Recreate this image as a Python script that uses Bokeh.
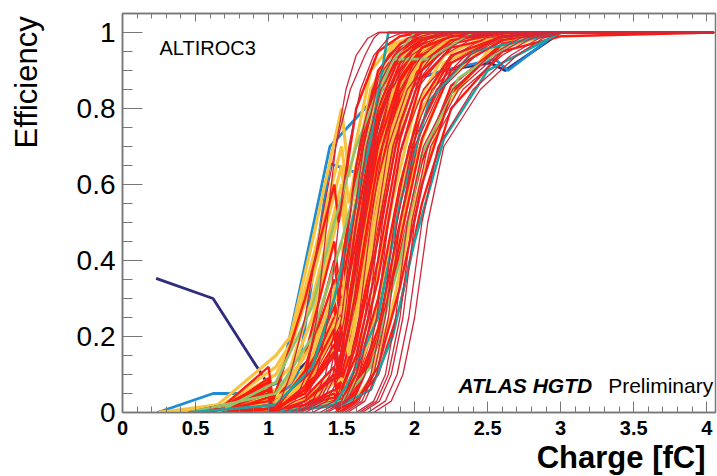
import numpy as np
from bokeh.plotting import figure
from bokeh.models import FixedTicker, LinearAxis, Label, Range1d, Title
from bokeh.embed import file_html
from bokeh.resources import INLINE

# ---------------- data ----------------
X_TICKS = [0, 0.5, 1, 1.5, 2, 2.5, 3, 3.5, 4]
X_TICK_LABELS = ["0", "0.5", "1", "1.5", "2", "2.5", "3", "3.5", "4"]
Y_TICKS = [0, 0.2, 0.4, 0.6, 0.8, 1.0]
Y_TICK_LABELS = ["0", "0.2", "0.4", "0.6", "0.8", "1"]

# measured efficiency scans drawn in red (charge grid, one row per channel)
RED_Q = [0.45, 0.7, 1.0, 1.03, 1.25, 1.45, 1.48, 1.6, 1.75, 1.9, 2.05, 2.25, 2.6, 3.0, 4.05]
RED_EFF = [
    [0, 0.01, 0.08, 0.00, 0.10, 0.30, 0.22, 0.45, 0.78, 0.92, 0.97, 0.99, 1, 1, 1],
    [0, 0.02, 0.06, 0.01, 0.05, 0.15, 0.10, 0.30, 0.65, 0.86, 0.95, 0.99, 1, 1, 1],
    [0, 0.00, 0.04, 0.00, 0.03, 0.10, 0.06, 0.20, 0.50, 0.80, 0.93, 0.98, 1, 1, 1],
    [0, 0.01, 0.09, 0.02, 0.15, 0.45, 0.35, 0.62, 0.88, 0.96, 0.99, 1, 1, 1, 1],
    [0, 0.00, 0.03, 0.00, 0.02, 0.06, 0.03, 0.12, 0.35, 0.68, 0.88, 0.96, 0.99, 1, 1],
    [0, 0.02, 0.07, 0.00, 0.08, 0.25, 0.16, 0.40, 0.72, 0.90, 0.97, 0.99, 1, 1, 1],
    [0, 0.00, 0.05, 0.01, 0.06, 0.20, 0.12, 0.35, 0.62, 0.84, 0.94, 0.98, 1, 1, 1],
    [0, 0.01, 0.02, 0.00, 0.01, 0.05, 0.02, 0.08, 0.26, 0.55, 0.80, 0.93, 0.99, 1, 1],
    [0, 0.00, 0.06, 0.00, 0.12, 0.35, 0.28, 0.55, 0.83, 0.95, 0.99, 1, 1, 1, 1],
    [0, 0.01, 0.03, 0.00, 0.04, 0.12, 0.07, 0.25, 0.56, 0.82, 0.94, 0.98, 1, 1, 1],
    [0, 0.02, 0.08, 0.01, 0.09, 0.28, 0.18, 0.50, 0.80, 0.94, 0.98, 1, 1, 1, 1],
    [0, 0.00, 0.02, 0.00, 0.02, 0.08, 0.04, 0.15, 0.40, 0.72, 0.90, 0.97, 1, 1, 1],
    [0, 0.01, 0.05, 0.00, 0.07, 0.22, 0.12, 0.38, 0.70, 0.88, 0.96, 0.99, 1, 1, 1],
    [0, 0.00, 0.01, 0.00, 0.01, 0.03, 0.01, 0.05, 0.18, 0.45, 0.72, 0.90, 0.98, 1, 1],
    [0, 0.01, 0.07, 0.00, 0.11, 0.40, 0.30, 0.65, 0.90, 0.97, 1, 1, 1, 1, 1],
    [0, 0.00, 0.04, 0.01, 0.05, 0.18, 0.09, 0.32, 0.66, 0.87, 0.96, 0.99, 1, 1, 1],
    [0, 0.00, 0.01, 0.00, 0.01, 0.02, 0.00, 0.03, 0.12, 0.33, 0.60, 0.84, 0.97, 1, 1],
    [0, 0.02, 0.12, 0.03, 0.30, 0.60, 0.50, 0.80, 0.95, 0.99, 1, 1, 1, 1, 1],
    [0, 0.01, 0.06, 0.00, 0.06, 0.16, 0.11, 0.42, 0.76, 0.92, 0.98, 1, 1, 1, 1],
    [0, 0.00, 0.02, 0.00, 0.03, 0.09, 0.03, 0.18, 0.46, 0.76, 0.92, 0.98, 1, 1, 1],
    [0, 0.00, 0.00, 0.00, 0.01, 0.02, 0.01, 0.03, 0.10, 0.28, 0.55, 0.80, 0.95, 0.99, 1],
    [0, 0.01, 0.03, 0.00, 0.02, 0.04, 0.02, 0.07, 0.22, 0.50, 0.76, 0.92, 0.99, 1, 1],
    [0, 0.00, 0.01, 0.00, 0.01, 0.03, 0.01, 0.06, 0.20, 0.42, 0.66, 0.86, 0.97, 1, 1],
    [0, 0.00, 0.02, 0.00, 0.02, 0.05, 0.02, 0.10, 0.30, 0.60, 0.82, 0.94, 0.99, 1, 1],
]

# measured efficiency scans drawn in yellow
YEL_Q = [0.25, 0.65, 1.05, 1.15, 1.3, 1.5, 1.55, 1.7, 1.85, 2.0, 2.2, 2.5, 3.0, 4.05]
YEL_EFF = [
    [0, 0.01, 0.10, 0.17, 0.35, 0.65, 0.45, 0.80, 0.93, 0.98, 1, 1, 1, 1],
    [0, 0.00, 0.05, 0.08, 0.20, 0.45, 0.30, 0.65, 0.87, 0.96, 0.99, 1, 1, 1],
    [0, 0.01, 0.03, 0.05, 0.12, 0.30, 0.18, 0.50, 0.78, 0.93, 0.98, 1, 1, 1],
    [0, 0.02, 0.15, 0.20, 0.45, 0.80, 0.62, 0.90, 0.97, 0.99, 1, 1, 1, 1],
    [0, 0.00, 0.02, 0.03, 0.08, 0.20, 0.12, 0.36, 0.68, 0.88, 0.97, 0.99, 1, 1],
    [0, 0.01, 0.06, 0.10, 0.25, 0.55, 0.38, 0.72, 0.91, 0.97, 1, 1, 1, 1],
    [0, 0.00, 0.01, 0.02, 0.05, 0.12, 0.06, 0.27, 0.56, 0.80, 0.94, 0.99, 1, 1],
    [0, 0.01, 0.08, 0.12, 0.30, 0.60, 0.42, 0.78, 0.93, 0.98, 1, 1, 1, 1],
    [0, 0.00, 0.04, 0.06, 0.15, 0.38, 0.24, 0.58, 0.84, 0.95, 0.99, 1, 1, 1],
    [0, 0.00, 0.02, 0.04, 0.10, 0.25, 0.15, 0.45, 0.75, 0.91, 0.98, 1, 1, 1],
    [0, 0.01, 0.12, 0.18, 0.40, 0.70, 0.55, 0.85, 0.96, 0.99, 1, 1, 1, 1],
    [0, 0.00, 0.03, 0.05, 0.10, 0.28, 0.16, 0.42, 0.72, 0.90, 0.97, 1, 1, 1],
    [0, 0.00, 0.01, 0.01, 0.02, 0.06, 0.03, 0.14, 0.38, 0.66, 0.87, 0.97, 1, 1],
    [0, 0.00, 0.00, 0.01, 0.02, 0.04, 0.01, 0.09, 0.28, 0.55, 0.80, 0.95, 1, 1],
    [0, 0.00, 0.01, 0.02, 0.04, 0.09, 0.05, 0.20, 0.48, 0.75, 0.92, 0.98, 1, 1],
    [0, 0.01, 0.05, 0.09, 0.18, 0.33, 0.22, 0.55, 0.82, 0.94, 0.99, 1, 1, 1],
]

# fitted S-curves (thin dark red): charge at which each fit reaches these efficiencies
FIT_EFF = [0, 0.03, 0.1, 0.25, 0.5, 0.7, 0.85, 0.94, 0.985, 1.0, 1.0]
FIT_Q = [
    [1.00, 1.08, 1.15, 1.25, 1.36, 1.46, 1.56, 1.66, 1.72, 1.76, 4.05],
    [1.05, 1.18, 1.26, 1.33, 1.40, 1.46, 1.53, 1.60, 1.68, 1.75, 4.05],
    [1.10, 1.25, 1.33, 1.41, 1.48, 1.55, 1.63, 1.72, 1.82, 1.92, 4.05],
    [1.15, 1.30, 1.39, 1.47, 1.55, 1.62, 1.71, 1.82, 1.95, 2.08, 4.05],
    [1.18, 1.33, 1.42, 1.50, 1.58, 1.65, 1.74, 1.86, 2.00, 2.14, 4.05],
    [1.20, 1.35, 1.44, 1.52, 1.60, 1.67, 1.77, 1.90, 2.05, 2.20, 4.05],
    [1.22, 1.37, 1.46, 1.55, 1.63, 1.71, 1.82, 1.95, 2.10, 2.25, 4.05],
    [1.25, 1.40, 1.49, 1.57, 1.65, 1.73, 1.84, 1.98, 2.15, 2.30, 4.05],
    [1.30, 1.45, 1.54, 1.62, 1.70, 1.78, 1.90, 2.05, 2.22, 2.40, 4.05],
    [1.35, 1.50, 1.58, 1.66, 1.74, 1.82, 1.95, 2.12, 2.30, 2.48, 4.05],
    [1.38, 1.52, 1.60, 1.68, 1.76, 1.85, 1.98, 2.16, 2.35, 2.52, 4.05],
    [1.40, 1.54, 1.62, 1.70, 1.78, 1.87, 2.01, 2.20, 2.40, 2.58, 4.05],
    [1.45, 1.58, 1.66, 1.74, 1.82, 1.91, 2.06, 2.27, 2.48, 2.66, 4.05],
    [1.50, 1.62, 1.70, 1.78, 1.86, 1.96, 2.12, 2.35, 2.56, 2.74, 4.05],
    [1.52, 1.64, 1.72, 1.80, 1.88, 1.98, 2.15, 2.38, 2.60, 2.78, 4.05],
    [1.54, 1.66, 1.74, 1.82, 1.90, 2.00, 2.18, 2.42, 2.64, 2.82, 4.05],
    [1.60, 1.72, 1.80, 1.87, 1.95, 2.06, 2.26, 2.52, 2.72, 2.90, 4.05],
    [1.62, 1.74, 1.82, 1.90, 1.98, 2.09, 2.30, 2.56, 2.76, 2.93, 4.05],
    [1.64, 1.76, 1.84, 1.92, 2.00, 2.11, 2.33, 2.60, 2.80, 2.96, 4.05],
    [1.68, 1.80, 1.88, 1.96, 2.05, 2.16, 2.40, 2.66, 2.85, 3.00, 4.05],
    [1.72, 1.84, 1.92, 2.00, 2.09, 2.20, 2.45, 2.70, 2.88, 3.02, 4.05],
]

# individual highlighted scans
GREEN_Q = [
    [0.45, 1.05, 1.3, 1.5, 1.7, 1.84, 2.1, 2.4, 4.05],
    [0.65, 1.05, 1.3, 1.45, 1.6, 1.8, 2.0, 4.05],
    [1.05, 1.5, 1.7, 1.9, 2.05, 2.3, 2.7, 3.0, 4.05],
]
GREEN_EFF = [
    [0, 0.05, 0.20, 0.45, 0.75, 0.93, 0.93, 1.0, 1.0],
    [0, 0.08, 0.28, 0.50, 0.70, 0.90, 1.0, 1.0],
    [0, 0.03, 0.12, 0.40, 0.68, 0.88, 0.98, 1.0, 1.0],
]
TEAL_Q = [
    [0.45, 1.05, 1.3, 1.45, 1.6, 1.70, 1.82, 2.2, 4.05],
    [1.05, 1.5, 1.7, 1.85, 2.0, 2.2, 2.5, 3.0, 4.05],
    [1.05, 1.45, 1.55, 1.75, 1.9, 2.1, 2.4, 3.0, 4.05],
]
TEAL_EFF = [
    [0, 0.02, 0.12, 0.30, 0.55, 0.72, 1.0, 1.0, 1.0],
    [0, 0.02, 0.06, 0.20, 0.45, 0.72, 0.90, 1.0, 1.0],
    [0, 0.02, 0.08, 0.25, 0.55, 0.82, 0.95, 1.0, 1.0],
]
BLUE_Q = [
    [0.24, 0.62, 0.85, 1.08, 1.42, 1.78, 2.2, 2.55, 2.64, 2.98, 4.05],
    [0.45, 1.05, 1.2, 1.42, 1.61, 1.8, 2.1, 2.5, 4.05],
]
BLUE_EFF = [
    [0, 0.05, 0.05, 0.08, 0.70, 0.85, 0.90, 0.93, 0.90, 1.0, 1.0],
    [0, 0.03, 0.10, 0.655, 0.63, 0.90, 0.97, 1.0, 1.0],
]
NAVY_Q = [0.23, 0.62, 0.97, 1.03, 1.45, 1.6, 1.81, 2.2, 2.52, 2.62, 3.0, 4.05]
NAVY_EFF = [0.353, 0.30, 0.09, 0.05, 0.20, 0.50, 0.855, 0.90, 0.92, 0.90, 1.0, 1.0]

# ---------------- figure ----------------
FONT = "Liberation Sans"
AX_COL = "#777777"

p = figure(width=717, height=476, x_range=Range1d(0, 4.06), y_range=Range1d(0, 1.05),
           output_backend="svg", toolbar_location=None,
           min_border_left=122, min_border_right=2, min_border_top=13, min_border_bottom=64)
p.xgrid.visible = False
p.ygrid.visible = False
p.outline_line_color = AX_COL
p.outline_line_width = 1.5
p.background_fill_color = "white"
p.border_fill_color = "white"

RED = "#ff1a10"
YEL = "#f8c340"
FITC = "#d0283a"

# blue/navy underneath: hidden inside the bundle, visible outside it
p.line(NAVY_Q, NAVY_EFF, line_color="#2e2c7c", line_width=2.8)
p.multi_line(xs=BLUE_Q, ys=BLUE_EFF, line_color="#1e8cd2", line_width=2.8)
p.multi_line(xs=[YEL_Q] * 8, ys=YEL_EFF[:8], line_color=YEL, line_width=3.2)
p.multi_line(xs=[RED_Q] * 12, ys=RED_EFF[:12], line_color=RED, line_width=2.4)
p.multi_line(xs=[YEL_Q] * (len(YEL_EFF) - 8), ys=YEL_EFF[8:], line_color=YEL, line_width=3.2)
p.multi_line(xs=[RED_Q] * (len(RED_EFF) - 12), ys=RED_EFF[12:], line_color=RED, line_width=2.4)
p.multi_line(xs=GREEN_Q, ys=GREEN_EFF, line_color="#8fc46e", line_width=2.6)
p.multi_line(xs=TEAL_Q, ys=TEAL_EFF, line_color="#1aa5a5", line_width=2.6)
p.multi_line(xs=FIT_Q, ys=[FIT_EFF] * len(FIT_Q), line_color=FITC, line_width=1.3)

# axes
x_minor = [round(v, 2) for v in np.arange(0, 4.06, 0.1)]
y_minor = [round(v, 3) for v in np.arange(0, 1.051, 0.05)]

xa = p.xaxis[0]
xa.ticker = FixedTicker(ticks=X_TICKS, minor_ticks=x_minor)
xa.major_label_overrides = {t: l for t, l in zip(X_TICKS, X_TICK_LABELS)}
xa.major_tick_in = 11
xa.major_tick_out = 0
xa.minor_tick_in = 6
xa.minor_tick_out = 0
xa.axis_line_color = AX_COL
xa.axis_line_width = 1.5
xa.major_tick_line_color = AX_COL
xa.minor_tick_line_color = AX_COL
xa.major_label_text_font = FONT
xa.major_label_text_font_style = "bold"
xa.major_label_text_font_size = "20px"
xa.major_label_text_color = "black"
xa.major_label_standoff = 8

ya = p.yaxis[0]
ya.ticker = FixedTicker(ticks=Y_TICKS, minor_ticks=y_minor)
ya.major_label_overrides = {t: l for t, l in zip(Y_TICKS, Y_TICK_LABELS)}
ya.major_tick_in = 20
ya.major_tick_out = 0
ya.minor_tick_in = 10
ya.minor_tick_out = 0
ya.axis_line_color = AX_COL
ya.axis_line_width = 1.5
ya.major_tick_line_color = AX_COL
ya.minor_tick_line_color = AX_COL
ya.major_label_text_font = FONT
ya.major_label_text_font_size = "28px"
ya.major_label_text_color = "black"
ya.major_label_standoff = 7

top = LinearAxis(ticker=FixedTicker(ticks=X_TICKS, minor_ticks=x_minor),
                 major_label_overrides={t: "" for t in X_TICKS},
                 major_label_standoff=0,
                 major_tick_in=8, major_tick_out=0, minor_tick_in=5, minor_tick_out=0,
                 axis_line_color=AX_COL, axis_line_width=1.5,
                 major_tick_line_color=AX_COL, minor_tick_line_color=AX_COL)
p.add_layout(top, "above")

# x title: panel title aligned to the right end of the axis
p.add_layout(Title(text="Charge [fC]", align="right", text_font=FONT,
                   text_font_style="bold", text_font_size="31px", text_color="black",
                   standoff=0, offset=10), "below")

# y title: axis label centred on the top end of the axis; trailing no-break
# spaces push the visible word down so that it ends at the top of the frame
ya.axis_label = "Efficiency" + "\u00a0" * 16
ya.axis_label_align = "end"
ya.axis_label_standoff = 30
ya.axis_label_text_font = FONT
ya.axis_label_text_font_size = "31px"
ya.axis_label_text_font_style = "normal"
ya.axis_label_text_color = "black"

# in-frame texts
p.add_layout(Label(x=0.253, y=0.960, text="ALTIROC3", text_font=FONT,
                   text_font_size="20px", text_baseline="alphabetic", text_color="black"))
p.add_layout(Label(x=2.30, y=0.070, text="ATLAS HGTD", text_font=FONT,
                   text_font_style="bold italic", text_font_size="21px",
                   text_baseline="alphabetic", text_color="black"))
p.add_layout(Label(x=3.325, y=0.070, text="Preliminary", text_font=FONT,
                   text_font_size="21px", text_baseline="alphabetic", text_color="black"))

open("out.html", "w").write(file_html(p, INLINE))
